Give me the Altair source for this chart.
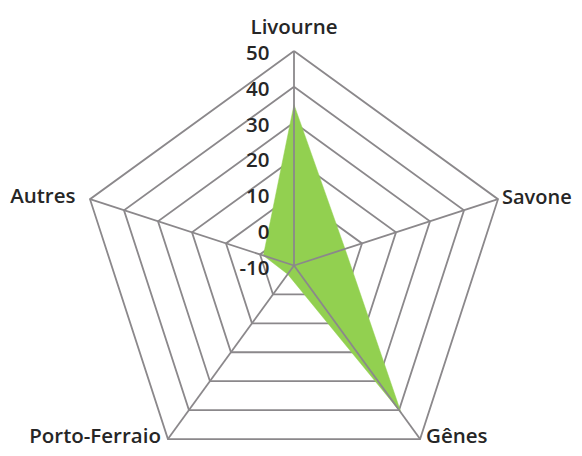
import altair as alt
import pandas as pd

# ---- data ----
categories = ["Livourne", "Savone", "Gênes", "Porto-Ferraio", "Autres"]
values = [35, 5, 41, -7, -1]
grid_levels = [0, 10, 20, 30, 40, 50]          # -10 is the centre
tick_labels = [50, 40, 30, 20, 10, 0, -10]
r_min, r_max = -10, 50

# ---- layout constants ----
W, H = 566, 440
CX, CY = 286.0, 257.5          # centre in plot pixels
R = 214.5                      # outer radius in pixels
k = R / (r_max - r_min)        # pixels per unit
xs = alt.Scale(domain=[-CX / k, (W - CX) / k], nice=False, zero=False)
ys = alt.Scale(domain=[-(H - CY) / k, CY / k], nice=False, zero=False)

n = len(categories)
series = pd.DataFrame({
    "cat": categories + [categories[0]],
    "value": values + [values[0]],
    "idx": list(range(n)) + [n],
})
grid = pd.DataFrame([{"level": lv, "idx": i} for lv in grid_levels for i in range(n + 1)])
spokes = pd.DataFrame({"cat": categories, "idx": list(range(n)), "value": [r_max] * n})
ticks = pd.DataFrame({"t": tick_labels})

ang = f"datum.idx * 2 * PI / {n}"
def polar(chart, field):
    return chart.transform_calculate(
        r=f"datum.{field} - ({r_min})"
    ).transform_calculate(
        x=f"datum.r * sin({ang})", y=f"datum.r * cos({ang})"
    )

X = alt.X("x:Q", scale=xs, axis=None)
Y = alt.Y("y:Q", scale=ys, axis=None)

GRID_COLOR = "#8b888b"
FONT = "Open Sans"
FS = 20.5
FW = 600
TXT = "#262626"

grid_layer = polar(alt.Chart(grid), "level").mark_line(
    color=GRID_COLOR, strokeWidth=1.8
).encode(x=X, y=Y, detail="level:N", order="idx:Q")

area_layer = polar(alt.Chart(series), "value").mark_line(
    fill="#92d050", stroke="#92d050", strokeWidth=0.5, fillOpacity=1
).encode(x=X, y=Y, order="idx:Q")

spoke_layer = polar(alt.Chart(spokes), "value").transform_calculate(
    x0="0", y0="0"
).mark_rule(color=GRID_COLOR, strokeWidth=1.8).encode(
    x=alt.X("x0:Q", scale=xs, axis=None),
    y=alt.Y("y0:Q", scale=ys, axis=None),
    x2="x:Q", y2="y:Q",
)

tick_layer = alt.Chart(ticks).transform_calculate(
    x="0", y=f"datum.t - ({r_min})", lab="'' + datum.t"
).mark_text(
    align="right", baseline="alphabetic", dx=-24.5, dy=9,
    font=FONT, fontSize=FS, fontWeight=FW, color=TXT
).encode(x=X, y=Y, text="lab:N")

label_style = {
    "Livourne": dict(align="center", dx=0, dy=-17.5, fontSize=FS),
    "Savone": dict(align="left", dx=4, dy=4.5, fontSize=20),
    "Gênes": dict(align="left", dx=6, dy=3.5, fontSize=FS),
    "Porto-Ferraio": dict(align="right", dx=-7, dy=3.5, fontSize=FS),
    "Autres": dict(align="right", dx=-14.5, dy=4, fontSize=FS),
}
label_layers = []
for c in categories:
    st = label_style[c]
    label_layers.append(
        polar(alt.Chart(spokes), "value").transform_filter(
            alt.datum.cat == c
        ).mark_text(
            baseline="alphabetic", font=FONT, fontWeight=FW,
            color=TXT, **st
        ).encode(x=X, y=Y, text="cat:N")
    )

chart = alt.layer(
    grid_layer, area_layer, spoke_layer, tick_layer, *label_layers
).properties(
    width=W, height=H, padding=0, autosize=alt.AutoSizeParams(type="none"),
    background="white"
).configure_view(stroke=None)

chart.save("out.html", embed_options={"renderer": "svg", "actions": False})
